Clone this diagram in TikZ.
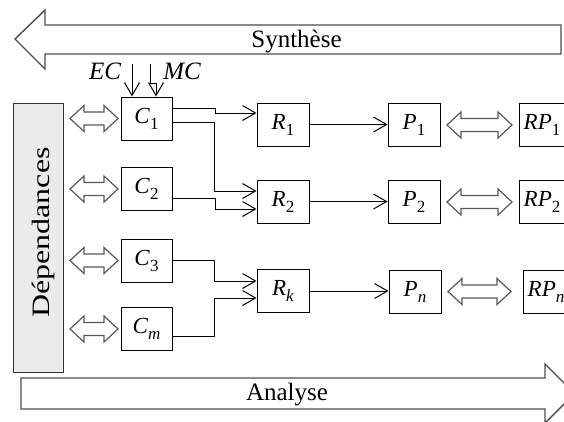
\documentclass[tikz,border=0pt]{standalone}
\usepackage{fontspec}
\usepackage{graphicx}
\setmainfont{Liberation Serif}
\usetikzlibrary{arrows.meta,calc}
\newcommand\lbl[2]{\textit{#1}\raisebox{-6pt}{\fontsize{17}{17}\selectfont #2}}
\newcommand\dblarr[3]{\draw[hol] (#1,#3) -- ({#1+14},{#3-13}) -- ({#1+14},{#3-6.5}) -- ({#2-14},{#3-6.5}) -- ({#2-14},{#3-13}) -- (#2,#3) -- ({#2-14},{#3+13}) -- ({#2-14},{#3+6.5}) -- ({#1+14},{#3+6.5}) -- ({#1+14},{#3+13}) -- cycle;}
\begin{document}
\begin{tikzpicture}[x=1pt,y=-1pt,
  box/.style={draw, line width=1pt, minimum width=51pt, minimum height=43pt, inner sep=0pt, font=\fontsize{23}{23}\selectfont},
  conn/.style={line width=1pt, -{Straight Barb[length=13pt,width=15pt,line width=1pt]}},
  hol/.style={draw=black!65, line width=1.2pt, fill=white, line join=miter},
  big/.style={draw=black!70, line width=1.4pt, fill=white},
  bigtxt/.style={anchor=base, font=\fontsize{25}{25}\selectfont}]
\useasboundingbox (0,0) rectangle (564,421);
\clip (0,0) rectangle (564,421);
% big arrows
\draw[big] (15,39) -- (45,10) -- (45,25) -- (561,25) -- (561,54) -- (45,54) -- (45,69) -- cycle;
\node[bigtxt] (syn) at (296.5,47.3) {Synthèse};
\draw[big] (21,378) -- (545,378) -- (545,364) -- (574.5,393.5) -- (545,423) -- (545,409) -- (21,409) -- cycle;
\node[bigtxt] (ana) at (287,400.5) {Analyse};
% dependances
\node[draw=black!80, line width=1pt, fill=black!8, minimum width=50pt, minimum height=269pt, inner sep=0pt] (dep) at (38,237.5) {};
\node[rotate=90, anchor=base, font=\fontsize{25}{25}\selectfont] (deptxt) at (49.3,232.5) {\scalebox{1.28}[1]{Dépendances}};
% boxes
\node[box] (C1) at (146.5,118.5) {\lbl{C}{1}};
\node[box] (C2) at (146.5,189) {\lbl{C}{2}};
\node[box] (C3) at (146.5,260.5) {\lbl{C}{3}};
\node[box] (Cm) at (146.5,329) {\lbl{C}{\textit{m}}};
\node[box, minimum width=52pt] (R1) at (283,124.5) {\lbl{R}{1}};
\node[box, minimum width=52pt] (R2) at (283,201.5) {\lbl{R}{2}};
\node[box, minimum width=52pt] (Rk) at (283,291) {\lbl{R}{\textit{k}}};
\node[box, minimum width=52pt] (P1) at (414,124.5) {\lbl{P}{1}};
\node[box, minimum width=52pt] (P2) at (414,201.5) {\lbl{P}{2}};
\node[box, minimum width=52pt] (Pn) at (415,291.5) {\lbl{P}{\textit{n}}};
\node[box, minimum width=46pt] (RP1) at (542,124.5) {\lbl{RP}{1}};
\node[box, minimum width=46pt] (RP2) at (542,201.5) {\lbl{RP}{2}};
\node[box, minimum width=46pt] (RPn) at (546,291.5) {\lbl{RP}{\textit{n}}};
% EC / MC
\node[bigtxt, font=\fontsize{25}{25}\selectfont\itshape] (ec) at (105,79) {EC};
\node[bigtxt, font=\fontsize{25}{25}\selectfont\itshape] (mc) at (182,79) {MC};
\coordinate (ecs) at (132,64);
\coordinate (mcs) at (150,64);
\draw[conn] (ecs) -- (ecs |- C1.north);
\draw[conn] (mcs) -- ++(0,19) -- ++(6,0) coordinate (mcj) -- (mcj |- C1.north);
% hollow double arrows
\dblarr{70}{118}{118.5}
\dblarr{70}{118}{189}
\dblarr{70}{118}{260.5}
\dblarr{70}{118}{329}
\dblarr{447}{512}{125}
\dblarr{447}{512}{202}
\dblarr{448}{511}{291.5}
% connectors
\draw[conn] ([yshift=10.5pt]C1.east) -- ++(43,0) |- ([yshift=11.5pt]R1.west);
\draw[conn] ([yshift=-3.5pt]C1.east) -- ++(42,0) |- ([yshift=10.5pt]R2.west);
\draw[conn] ([yshift=-9pt]C2.east) -- ++(43,0) |- ([yshift=-7.5pt]R2.west);
\draw[conn] (C3.east) -- ++(42,0) |- ([yshift=10pt]Rk.west);
\draw[conn] ([yshift=-7pt]Cm.east) -- ++(42,0) |- ([yshift=-7pt]Rk.west);
\draw[conn] (R1) -- (P1);
\draw[conn] (R2) -- (P2);
\draw[conn] (Rk.east) -- (Rk.east -| Pn.west);
\end{tikzpicture}
\end{document}
